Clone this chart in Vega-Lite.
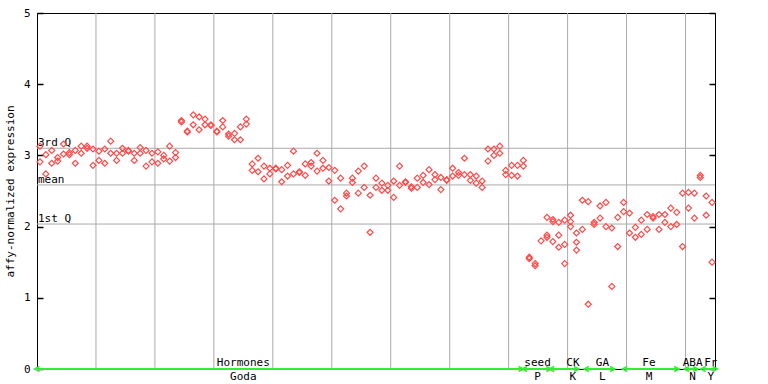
{
  "$schema": "https://vega.github.io/schema/vega-lite/v6.json",
  "width": 678,
  "height": 356,
  "autosize": {"type": "none"},
  "padding": {"left": 37, "top": 13, "right": 53, "bottom": 15},
  "background": "#ffffff",
  "config": {
    "font": "DejaVu Sans Mono",
    "view": {"stroke": "#000000", "strokeWidth": 1},
    "axis": {"grid": false, "labelColor": "#000000", "titleColor": "#000000", "tickColor": "#000000", "domainColor": "#000000"}
  },
  "datasets": {
    "grid": [{"k": 9.5}, {"k": 19.5}, {"k": 29.5}, {"k": 39.5}, {"k": 49.5}, {"k": 59.5}, {"k": 69.5}, {"k": 79.5}, {"k": 89.5}, {"k": 99.5}, {"k": 109.5}],
    "q": [{"v": 3.10, "label": "3rd Q"}, {"v": 2.585, "label": "mean"}, {"v": 2.036, "label": "1st Q"}],
    "groups": [
      {"name": "Hormones", "code": "Goda", "start": -0.5, "end": 81.6, "mid": 34.5},
      {"name": "seed", "code": "P", "start": 82.2, "end": 86.3, "mid": 84.4},
      {"name": "CK", "code": "K", "start": 86.8, "end": 91.0, "mid": 90.4},
      {"name": "GA", "code": "L", "start": 92.7, "end": 97.1, "mid": 95.4},
      {"name": "Fe", "code": "M", "start": 99.2, "end": 108.0, "mid": 103.3},
      {"name": "ABA", "code": "N", "start": 109.7, "end": 111.2, "mid": 110.7},
      {"name": "Fr", "code": "Y", "start": 112.5, "end": 114.5, "mid": 113.8}
    ],
    "pts": [
      {"k":0,"v":3.13},{"k":0,"v":2.91},{"k":1,"v":3.01},{"k":1,"v":2.74},{"k":2,"v":3.07},{"k":2,"v":2.89},
      {"k":3,"v":2.97},{"k":3,"v":2.92},{"k":4,"v":3.16},{"k":4,"v":3.02},{"k":5,"v":3.04},{"k":5,"v":3.01},
      {"k":6,"v":3.07},{"k":6,"v":2.89},{"k":7,"v":3.13},{"k":7,"v":3.03},{"k":8,"v":3.13},{"k":8,"v":3.10},
      {"k":9,"v":3.09},{"k":9,"v":2.86},{"k":10,"v":3.06},{"k":10,"v":2.93},{"k":11,"v":3.09},{"k":11,"v":2.89},
      {"k":12,"v":3.20},{"k":12,"v":3.03},{"k":13,"v":3.03},{"k":13,"v":2.93},{"k":14,"v":3.10},{"k":14,"v":3.03},
      {"k":15,"v":3.07},{"k":15,"v":3.06},{"k":16,"v":3.03},{"k":16,"v":2.93},{"k":17,"v":3.11},{"k":17,"v":3.03},
      {"k":18,"v":3.07},{"k":18,"v":2.85},{"k":19,"v":3.03},{"k":19,"v":2.91},{"k":20,"v":3.05},{"k":20,"v":2.89},
      {"k":21,"v":3.00},{"k":21,"v":2.95},{"k":22,"v":3.13},{"k":22,"v":2.92},{"k":23,"v":3.04},{"k":23,"v":2.97},
      {"k":24,"v":3.49},{"k":24,"v":3.47},{"k":25,"v":3.34},{"k":25,"v":3.33},{"k":26,"v":3.57},{"k":26,"v":3.43},
      {"k":27,"v":3.54},{"k":27,"v":3.36},{"k":28,"v":3.51},{"k":28,"v":3.43},{"k":29,"v":3.43},{"k":29,"v":3.42},
      {"k":30,"v":3.34},{"k":30,"v":3.33},{"k":31,"v":3.49},{"k":31,"v":3.40},{"k":32,"v":3.30},{"k":32,"v":3.27},
      {"k":33,"v":3.31},{"k":33,"v":3.22},{"k":34,"v":3.40},{"k":34,"v":3.22},{"k":35,"v":3.51},{"k":35,"v":3.44},
      {"k":36,"v":2.88},{"k":36,"v":2.79},{"k":37,"v":2.96},{"k":37,"v":2.77},{"k":38,"v":2.85},{"k":38,"v":2.67},
      {"k":39,"v":2.82},{"k":39,"v":2.74},{"k":40,"v":2.82},{"k":40,"v":2.81},{"k":41,"v":2.80},{"k":41,"v":2.63},
      {"k":42,"v":2.86},{"k":42,"v":2.71},{"k":43,"v":3.06},{"k":43,"v":2.74},{"k":44,"v":2.77},{"k":44,"v":2.76},
      {"k":45,"v":2.88},{"k":45,"v":2.72},{"k":46,"v":2.90},{"k":46,"v":2.85},{"k":47,"v":3.03},{"k":47,"v":2.78},
      {"k":48,"v":2.93},{"k":48,"v":2.82},{"k":49,"v":2.83},{"k":49,"v":2.64},{"k":50,"v":2.79},{"k":50,"v":2.37},
      {"k":51,"v":2.68},{"k":51,"v":2.25},{"k":52,"v":2.47},{"k":52,"v":2.43},{"k":53,"v":2.68},{"k":53,"v":2.62},
      {"k":54,"v":2.78},{"k":54,"v":2.47},{"k":55,"v":2.85},{"k":55,"v":2.55},{"k":56,"v":2.44},{"k":56,"v":1.92},
      {"k":57,"v":2.68},{"k":57,"v":2.55},{"k":58,"v":2.61},{"k":58,"v":2.51},{"k":59,"v":2.58},{"k":59,"v":2.51},
      {"k":60,"v":2.64},{"k":60,"v":2.41},{"k":61,"v":2.85},{"k":61,"v":2.58},{"k":62,"v":2.63},{"k":62,"v":2.62},
      {"k":63,"v":2.56},{"k":63,"v":2.54},{"k":64,"v":2.68},{"k":64,"v":2.55},{"k":65,"v":2.72},{"k":65,"v":2.62},
      {"k":66,"v":2.80},{"k":66,"v":2.59},{"k":67,"v":2.73},{"k":67,"v":2.66},{"k":68,"v":2.69},{"k":68,"v":2.52},
      {"k":69,"v":2.66},{"k":69,"v":2.65},{"k":70,"v":2.82},{"k":70,"v":2.71},{"k":71,"v":2.76},{"k":71,"v":2.72},
      {"k":72,"v":2.96},{"k":72,"v":2.73},{"k":73,"v":2.73},{"k":73,"v":2.65},{"k":74,"v":2.71},{"k":74,"v":2.61},
      {"k":75,"v":2.64},{"k":75,"v":2.55},{"k":76,"v":3.09},{"k":76,"v":2.92},{"k":77,"v":3.09},{"k":77,"v":3.00},
      {"k":78,"v":3.13},{"k":78,"v":3.03},{"k":79,"v":2.79},{"k":79,"v":2.73},{"k":80,"v":2.86},{"k":80,"v":2.72},
      {"k":81,"v":2.86},{"k":81,"v":2.71},{"k":82,"v":2.93},{"k":82,"v":2.85},{"k":83,"v":1.57},{"k":83,"v":1.55},
      {"k":84,"v":1.48},{"k":84,"v":1.45},{"k":85,"v":1.80},
      {"k":86,"v":2.13},{"k":86,"v":1.88},{"k":86,"v":1.85},{"k":87,"v":2.10},{"k":87,"v":2.07},{"k":87,"v":1.79},
      {"k":88,"v":2.06},{"k":88,"v":1.88},{"k":88,"v":1.71},{"k":89,"v":2.09},{"k":89,"v":1.75},{"k":89,"v":1.48},
      {"k":90,"v":2.16},{"k":90,"v":2.07},{"k":90,"v":2.00},{"k":91,"v":1.91},{"k":91,"v":1.78},{"k":91,"v":1.67},
      {"k":92,"v":2.37},{"k":92,"v":1.96},{"k":93,"v":2.35},{"k":93,"v":0.91},{"k":94,"v":2.06},{"k":94,"v":2.03},
      {"k":95,"v":2.29},{"k":95,"v":2.12},{"k":96,"v":2.34},{"k":96,"v":2.00},{"k":97,"v":1.98},{"k":97,"v":1.16},
      {"k":98,"v":2.13},{"k":98,"v":1.72},{"k":99,"v":2.34},{"k":99,"v":2.21},{"k":100,"v":2.19},{"k":100,"v":1.91},
      {"k":101,"v":1.99},{"k":101,"v":1.85},{"k":102,"v":2.09},{"k":102,"v":1.89},{"k":103,"v":2.17},{"k":103,"v":1.96},
      {"k":104,"v":2.14},{"k":104,"v":2.12},{"k":105,"v":2.17},{"k":105,"v":1.96},{"k":106,"v":2.17},{"k":106,"v":2.06},
      {"k":107,"v":2.26},{"k":107,"v":2.00},{"k":108,"v":2.20},{"k":108,"v":2.03},{"k":109,"v":2.47},{"k":109,"v":1.72},
      {"k":110,"v":2.48},{"k":110,"v":2.26},{"k":111,"v":2.47},{"k":111,"v":2.12},{"k":112,"v":2.72},{"k":112,"v":2.69},
      {"k":113,"v":2.43},{"k":113,"v":2.16},{"k":114,"v":2.34},{"k":114,"v":1.50}
    ]
  },
  "resolve": {"axis": {"y": "independent"}},
  "layer": [
    {
      "data": {"name": "grid"},
      "mark": {"type": "rule", "color": "#aaaaaa", "strokeWidth": 1},
      "encoding": {
        "x": {"field": "k", "type": "quantitative", "scale": {"domain": [-0.5, 114.5], "nice": false, "zero": false}, "axis": null}
      }
    },
    {
      "data": {"name": "q"},
      "mark": {"type": "rule", "color": "#aaaaaa", "strokeWidth": 1},
      "encoding": {
        "y": {"field": "v", "type": "quantitative", "scale": {"domain": [0, 5], "nice": false, "zero": true},
              "axis": {"orient": "right", "offset": -678, "values": [0, 1, 2, 3, 4, 5], "ticks": true, "tickSize": 6, "tickWidth": 1.5, "labels": false, "domain": false, "title": null, "grid": false}}
      }
    },
    {
      "data": {"name": "q"},
      "mark": {"type": "text", "align": "left", "baseline": "alphabetic", "dx": 1, "dy": -2, "fontSize": 11, "color": "#000000"},
      "encoding": {
        "x": {"datum": -0.5, "type": "quantitative"},
        "y": {"field": "v", "type": "quantitative",
              "axis": {"orient": "left", "offset": -678, "values": [0, 1, 2, 3, 4, 5], "ticks": true, "tickSize": 6, "tickWidth": 1.5, "labels": false, "domain": false, "title": null, "grid": false}},
        "text": {"field": "label"}
      }
    },
    {
      "data": {"name": "pts"},
      "mark": {"type": "point", "shape": "diamond", "filled": false, "size": 36, "strokeWidth": 1.2, "color": "#ff4a4a", "opacity": 1},
      "encoding": {
        "x": {"field": "k", "type": "quantitative"},
        "y": {"field": "v", "type": "quantitative",
              "axis": {"orient": "left", "values": [0, 1, 2, 3, 4, 5], "ticks": false, "domain": false, "labelPadding": 7, "labelFontSize": 11,
                       "title": "affy-normalized expression", "titleFontSize": 11, "titleFontWeight": "normal", "titlePadding": 8, "grid": false}}
      }
    },
    {
      "data": {"name": "groups"},
      "mark": {"type": "rule", "color": "#33ee33", "strokeWidth": 2},
      "encoding": {
        "x": {"field": "start", "type": "quantitative"},
        "x2": {"field": "end"},
        "y": {"datum": 0, "type": "quantitative", "axis": null}
      }
    },
    {
      "data": {"name": "groups"},
      "mark": {"type": "point", "shape": "M1,-1L-1,0L1,1", "filled": false, "size": 25, "strokeWidth": 1.5, "color": "#33ee33", "opacity": 1, "dx": 2},
      "encoding": {
        "x": {"field": "start", "type": "quantitative"},
        "y": {"datum": 0, "type": "quantitative", "axis": null}
      }
    },
    {
      "data": {"name": "groups"},
      "mark": {"type": "point", "shape": "M-1,-1L1,0L-1,1", "filled": false, "size": 25, "strokeWidth": 1.5, "color": "#33ee33", "opacity": 1},
      "encoding": {
        "x": {"field": "end", "type": "quantitative"},
        "y": {"datum": 0, "type": "quantitative", "axis": null}
      }
    },
    {
      "data": {"name": "groups"},
      "mark": {"type": "text", "align": "center", "baseline": "alphabetic", "dy": -3, "fontSize": 11, "color": "#000000"},
      "encoding": {
        "x": {"field": "mid", "type": "quantitative"},
        "y": {"datum": 0, "type": "quantitative", "axis": null},
        "text": {"field": "name"}
      }
    },
    {
      "data": {"name": "groups"},
      "mark": {"type": "text", "align": "center", "baseline": "alphabetic", "dy": 11, "fontSize": 11, "color": "#000000"},
      "encoding": {
        "x": {"field": "mid", "type": "quantitative"},
        "y": {"datum": 0, "type": "quantitative", "axis": null},
        "text": {"field": "code"}
      }
    }
  ]
}
